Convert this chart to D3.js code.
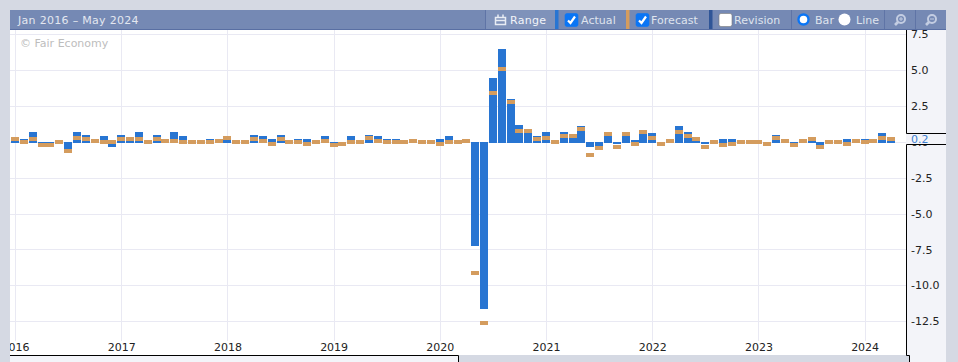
<!DOCTYPE html>
<html>
<head>
<meta charset="utf-8">
<script src="https://cdn.jsdelivr.net/npm/d3@7"></script>
<style>
  html, body { margin: 0; padding: 0; background: #d5d9e3; overflow: hidden; }
  svg { display: block; font-family: "DejaVu Sans", sans-serif; font-size: 11px; }
</style>
</head>
<body>
<div id="chart-area"></div>
<script>
const years = ["2016", "2017", "2018", "2019", "2020", "2021", "2022", "2023", "2024"];
const months = [
  "2016-01", "2016-02", "2016-03", "2016-04", "2016-05", "2016-06", "2016-07", "2016-08", "2016-09", "2016-10", "2016-11", "2016-12",
  "2017-01", "2017-02", "2017-03", "2017-04", "2017-05", "2017-06", "2017-07", "2017-08", "2017-09", "2017-10", "2017-11", "2017-12",
  "2018-01", "2018-02", "2018-03", "2018-04", "2018-05", "2018-06", "2018-07", "2018-08", "2018-09", "2018-10", "2018-11", "2018-12",
  "2019-01", "2019-02", "2019-03", "2019-04", "2019-05", "2019-06", "2019-07", "2019-08", "2019-09", "2019-10", "2019-11", "2019-12",
  "2020-01", "2020-02", "2020-03", "2020-04", "2020-05", "2020-06", "2020-07", "2020-08", "2020-09", "2020-10", "2020-11", "2020-12",
  "2021-01", "2021-02", "2021-03", "2021-04", "2021-05", "2021-06", "2021-07", "2021-08", "2021-09", "2021-10", "2021-11", "2021-12",
  "2022-01", "2022-02", "2022-03", "2022-04", "2022-05", "2022-06", "2022-07", "2022-08", "2022-09", "2022-10", "2022-11", "2022-12",
  "2023-01", "2023-02", "2023-03", "2023-04", "2023-05", "2023-06", "2023-07", "2023-08", "2023-09", "2023-10", "2023-11", "2023-12",
  "2024-01", "2024-02", "2024-03", "2024-04", "2024-05"
];
const actual = [
  0.2, 0.2, 0.7, -0.1, -0.1, 0, -0.5, 0.7, 0.5, 0.1, 0.4, -0.3,
  0.5, 0.2, 0.7, 0, 0.5, 0.1, 0.7, 0.4, 0, 0, 0.2, 0.1,
  0.2, 0, 0, 0.5, 0.4, 0.2, 0.5, 0, 0.2, 0.2, 0, 0.4,
  -0.1, -0.1, 0.4, 0, 0.5, 0.4, 0.2, 0.2, 0, 0.1, 0, 0,
  0.2, 0.4, 0, 0.1, -7.2, -11.6, 4.5, 6.5, 3.0, 1.2, 0.8, 0.45,
  0.7, 0, 0.7, 0.3, 1.1, -0.35, -0.3, 0.5, -0.1, 0.5, 0.15, 0.6,
  0.65, -0.1, 0.1, 1.1, 0.7, 0.2, -0.1, 0, 0.2, 0.2, 0, 0,
  0, -0.1, 0.5, 0.1, -0.1, 0.1, 0.1, -0.2, 0, 0, 0.2, 0.1,
  0.2, 0.1, 0.65, 0.1, null
];
const forecast = [
  0.2, 0, 0.2, -0.2, -0.2, 0, -0.6, 0.3, 0.2, 0.1, 0, 0,
  0.2, 0.2, 0.2, 0, 0.2, 0.1, 0.1, 0, 0, 0, 0, 0.1,
  0.3, 0, 0, 0.2, 0.1, -0.1, 0.2, 0, 0, -0.1, 0, 0.1,
  -0.2, -0.1, 0, 0, 0.3, 0.1, 0, 0, 0, 0.1, 0, 0,
  -0.1, 0, 0, 0.1, -9.1, -12.6, 3.4, 5.1, 2.8, 0.8, 0.8, 0.2,
  0.3, 0, 0.4, 0.4, 0.9, -0.9, -0.4, 0.6, -0.3, 0.6, -0.1, 0.7,
  0.3, -0.1, 0.1, 0.7, 0.4, 0.2, -0.3, 0, -0.2, -0.1, 0, 0,
  0, -0.1, 0.3, 0.1, -0.2, 0.1, 0.2, -0.3, 0, 0, -0.1, 0.1,
  0, 0.1, 0.3, 0.2, null
];
const yTicks = [7.5, 5, 2.5, 0, -2.5, -5, -7.5, -10, -12.5];

const pageBg = "#d5d9e3";
const panelBg = "#f3f4f9";
const headBg = "#7589b4";
const gridColor = "#e9e9f3";
const blue = "#2875d2";
const orange = "#d49c5e";

const svg = d3.select("#chart-area").append("svg")
    .attr("width", 958)
    .attr("height", 362);

const x = d3.scaleBand().domain(months).range([11.1, 904.95]).paddingInner(0.1).paddingOuter(0.05);
const y = d3.scaleLinear().domain([-12.5, 7.5]).range([321.8, 34.5]);

// panels
svg.append("rect").attr("x", 10).attr("y", 30).attr("width", 936).attr("height", 332).attr("fill", panelBg);
svg.append("rect").attr("x", 10).attr("y", 30).attr("width", 896).attr("height", 325).attr("fill", "#fff");
svg.append("rect").attr("x", 459).attr("y", 355).attr("width", 451).attr("height", 7).attr("fill", pageBg);

svg.append("clipPath").attr("id", "plot-clip").append("rect")
    .attr("x", 10).attr("y", 30).attr("width", 896).attr("height", 325);
const plot = svg.append("g").attr("clip-path", "url(#plot-clip)");

// grid
const janMonths = years.map((d) => d + "-01");
plot.selectAll(".v-grid").data(janMonths).enter().append("line")
    .attr("class", "v-grid")
    .attr("x1", (d) => Math.floor(x(d) + x.bandwidth() / 2) + 0.5)
    .attr("x2", (d) => Math.floor(x(d) + x.bandwidth() / 2) + 0.5)
    .attr("y1", 30).attr("y2", 341)
    .attr("stroke", gridColor);
plot.selectAll(".h-grid").data(yTicks).enter().append("line")
    .attr("class", "h-grid")
    .attr("x1", 10).attr("x2", 906)
    .attr("y1", (d) => Math.floor(y(d)) + 0.5)
    .attr("y2", (d) => Math.floor(y(d)) + 0.5)
    .attr("stroke", gridColor);

plot.append("text")
    .attr("x", 20).attr("y", 47)
    .attr("fill", "#bdbdbd")
    .text("© Fair Economy");

// bars, snapped to whole pixels; the zero edge overlaps by a pixel either way
const barX = (d) => Math.floor(x(d));
const barTop = (v) => (v >= 0 ? Math.round(y(v)) : Math.round(y(0)));
const barBottom = (v) => (v >= 0 ? Math.round(y(0)) + 1 : Math.round(y(v)));

plot.selectAll(".actual").data(months.filter((d, i) => actual[i] !== null)).enter().append("rect")
    .attr("class", "actual")
    .attr("x", barX)
    .attr("width", 8)
    .attr("y", (d) => barTop(actual[months.indexOf(d)]))
    .attr("height", (d) => {
      const v = actual[months.indexOf(d)];
      return barBottom(v) - barTop(v);
    })
    .attr("fill", blue);

plot.selectAll(".forecast").data(months.filter((d, i) => forecast[i] !== null)).enter().append("rect")
    .attr("class", "forecast")
    .attr("x", barX)
    .attr("width", 8)
    .attr("y", (d) => Math.round(y(forecast[months.indexOf(d)]) - 2))
    .attr("height", 4)
    .attr("fill", orange);

// x axis
const xAxisCall = d3.axisBottom(x).tickValues(janMonths).tickSize(0).tickFormat((d) => d.slice(0, 4));
const xAxisGroup = plot.append("g").attr("transform", "translate(0,340)").call(xAxisCall);
xAxisGroup.select(".domain").remove();
xAxisGroup.selectAll("text").attr("fill", "#222").attr("font-size", 11).attr("font-family", "DejaVu Sans");

// y axis
const yAxisCall = d3.axisRight(y).tickValues(yTicks).tickSize(0).tickFormat((d) => d.toFixed(1));
const yAxisGroup = svg.append("g").attr("transform", "translate(906,-0.5)").call(yAxisCall);
yAxisGroup.select(".domain").remove();
yAxisGroup.selectAll("text")
    .attr("x", 5)
    .attr("fill", "#222")
    .attr("font-size", 11)
    .attr("font-family", "DejaVu Sans");

// black frame with the latest value flag, it sits over the 0.0 tick label
svg.append("rect").attr("x", 907).attr("y", 134).attr("width", 39).attr("height", 10).attr("fill", panelBg);
const frame = svg.append("g").attr("fill", "none").attr("stroke", "#000");
frame.append("path").attr("d", "M946,133.5H906.5V30");
frame.append("path").attr("d", "M946,144.5H906.5V355.5H909.5V362");
frame.append("path").attr("d", "M10,355.5H458.5V362");
svg.append("text")
    .attr("x", 911).attr("y", 143)
    .attr("fill", "#3d7fd0")
    .text("0.2");

// header
const head = svg.append("g");
head.append("rect").attr("x", 10).attr("y", 10).attr("width", 936).attr("height", 20).attr("fill", headBg);
head.append("rect").attr("x", 10).attr("y", 29).attr("width", 936).attr("height", 1).attr("fill", "#596fa3");
head.append("rect").attr("x", 486).attr("y", 10).attr("width", 69).attr("height", 19).attr("fill", "#7f92ba");
head.append("text").attr("x", 18).attr("y", 24).attr("fill", "#e3e7f0").attr("letter-spacing", 0.3).text("Jan 2016 – May 2024");

const dividers = [485, 791, 884, 915];
head.selectAll(".divider").data(dividers).enter().append("rect")
    .attr("class", "divider")
    .attr("x", (d) => d).attr("y", 10).attr("width", 1).attr("height", 19)
    .attr("fill", "#5f74a6");

const swatches = [[555, blue], [626, orange], [709, "#2f5597"]];
head.selectAll(".swatch").data(swatches).enter().append("rect")
    .attr("class", "swatch")
    .attr("x", (d) => d[0]).attr("y", 10).attr("width", 3.5).attr("height", 19)
    .attr("fill", (d) => d[1]);

// calendar icon
head.append("path")
    .attr("d", "M495.5,17.5H505.5V24.5H495.5ZM495.5,20.5H505.5M498,14.5V17.5M503,14.5V17.5")
    .attr("fill", "none").attr("stroke", "#e8ecf4").attr("stroke-width", 1.5);
head.append("text").attr("x", 510).attr("y", 24).attr("fill", "#f2f4f9").attr("letter-spacing", 0.3).text("Range");

const labels = [[581, "Actual"], [651, "Forecast"], [734, "Revision"], [815, "Bar"], [856, "Line"]];
head.selectAll(".label").data(labels).enter().append("text")
    .attr("class", "label")
    .attr("x", (d) => d[0]).attr("y", 24)
    .attr("fill", "#dfe4ee")
    .attr("letter-spacing", 0.05)
    .text((d) => d[1]);

const checks = [[565, true], [636, true], [719, false]];
head.selectAll(".check").data(checks).enter().append("rect")
    .attr("class", "check")
    .attr("x", (d) => d[0]).attr("y", 13.5).attr("width", 13).attr("height", 13).attr("rx", 2)
    .attr("fill", (d) => (d[1] ? "#0a75f5" : "#fff"))
    .attr("stroke", (d) => (d[1] ? "#0a75f5" : "#7a7a7a"))
    .attr("stroke-width", 0.6);
head.selectAll(".tick-mark").data(checks.filter((d) => d[1])).enter().append("path")
    .attr("class", "tick-mark")
    .attr("d", (d) => `M${d[0] + 3},${20.5}L${d[0] + 5.5},${23}L${d[0] + 10},${16.5}`)
    .attr("fill", "none").attr("stroke", "#fff").attr("stroke-width", 2.2);

head.append("circle").attr("cx", 803.5).attr("cy", 19.5).attr("r", 5).attr("fill", "#fff").attr("stroke", "#0a75f5").attr("stroke-width", 2.4);
head.append("circle").attr("cx", 844.5).attr("cy", 19.5).attr("r", 6).attr("fill", "#fff");

// zoom icons
const icons = [[900, true], [931, false]];
const icon = head.selectAll(".zoom-icon").data(icons).enter().append("g")
    .attr("class", "zoom-icon")
    .attr("transform", (d) => `translate(${d[0]},20)`)
    .attr("fill", "none").attr("stroke", "#c3cde2");
icon.append("circle").attr("cx", 1).attr("cy", -1).attr("r", 4).attr("stroke-width", 2);
icon.append("path").attr("d", "M-2,2L-5,5").attr("stroke-width", 2.6);
icon.append("path").attr("d", (d) => (d[1] ? "M-1,-1H3M1,-3V1" : "M-1,-1H3")).attr("stroke-width", 1);
</script>
</body>
</html>
